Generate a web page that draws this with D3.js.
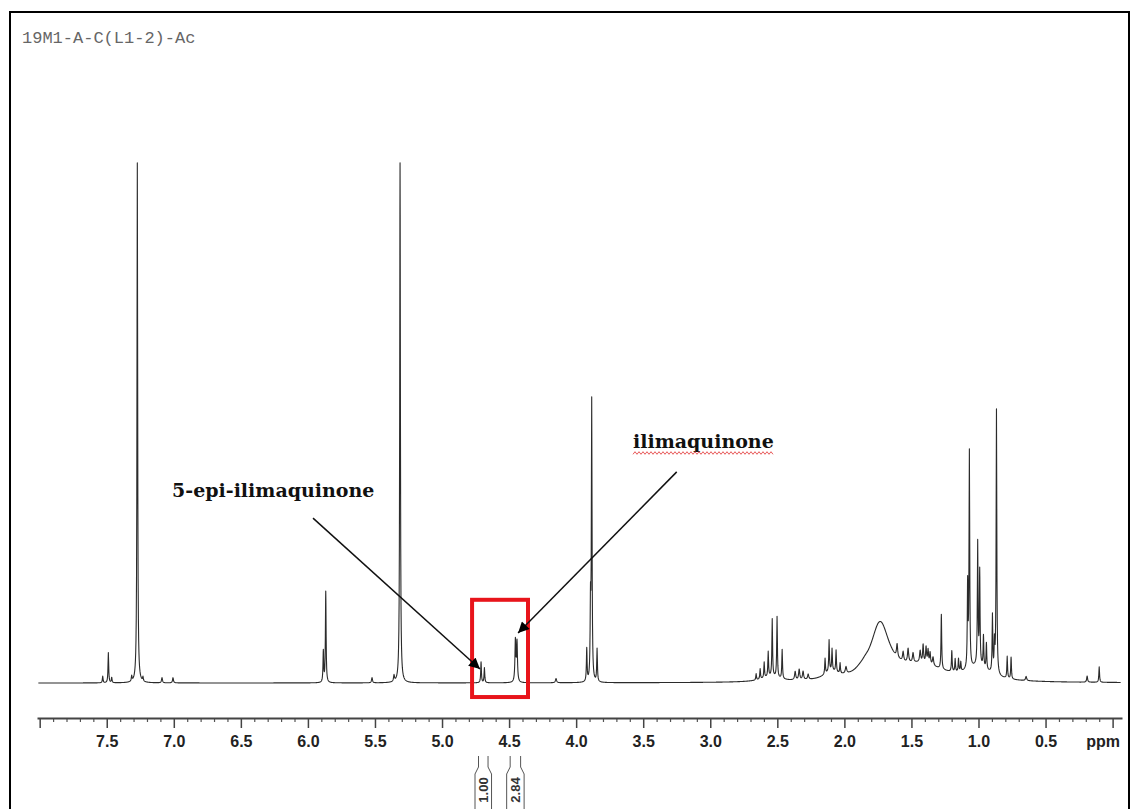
<!DOCTYPE html>
<html>
<head>
<meta charset="utf-8">
<script src="https://cdn.jsdelivr.net/npm/d3@7"></script>
<style>
  body { margin: 0; background: #fff; }
  svg { display: block; }
</style>
</head>
<body>
<div id="chart"></div>
<script>
// peak list: position (ppm), height (% of tallest), half width (ppm)
const peakPpm = [
  7.530, 7.488, 7.463, 7.314, 7.272, 7.230, 7.088, 7.006,
  5.885, 5.867, 5.522, 5.358, 5.313,
  4.709, 4.684, 4.453, 4.441, 4.150,
  3.921, 3.893, 3.884, 3.844,
  2.658, 2.628, 2.598, 2.568, 2.538, 2.502, 2.464,
  2.367, 2.337, 2.308, 2.270,
  2.144, 2.114, 2.092, 2.062, 2.032, 1.988,
  1.883, 1.846, 1.734,
  1.607, 1.562, 1.525, 1.488, 1.435, 1.413, 1.391, 1.376, 1.361, 1.339,
  1.277, 1.199, 1.174, 1.149, 1.132,
  1.081, 1.068, 1.006, 0.991, 0.963, 0.941, 0.896, 0.881, 0.866,
  0.786, 0.757, 0.645, 0.190, 0.100,
  2.550, 2.100, 1.420, 1.000
];
const peakHeight = [
  1.3, 5.8, 1.0, 1.0, 100, 0.8, 1.0, 1.0,
  6.0, 17.5, 1.0, 1.2, 100,
  4.0, 2.9, 8.0, 7.6, 0.8,
  6.3, 14, 53.5, 6.3,
  1.2, 2.0, 3.0, 4.8, 11.0, 11.7, 5.6,
  1.6, 2.0, 1.6, 1.0,
  3.0, 6.0, 4.2, 4.2, 2.0, 1.3,
  0.4, 0.5, 10.8,
  2.5, 1.8, 2.6, 1.8, 2.2, 3.4, 3.0, 2.6, 2.2, 1.6,
  10.5, 4.0, 2.5, 2.5, 1.8,
  16, 41.5, 23.5, 18, 6.0, 5.0, 11.0, 5.5, 51,
  4.2, 4.2, 0.8, 1.2, 3.0,
  1.0, 1.5, 3.0, 2.5
];
const peakWidth = [
  0.003, 0.003, 0.003, 0.003, 0.003, 0.003, 0.004, 0.004,
  0.003, 0.003, 0.004, 0.004, 0.003,
  0.003, 0.003, 0.004, 0.004, 0.005,
  0.003, 0.003, 0.003, 0.003,
  0.003, 0.003, 0.003, 0.003, 0.003, 0.003, 0.003,
  0.005, 0.005, 0.005, 0.005,
  0.003, 0.003, 0.003, 0.003, 0.003, 0.006,
  0.040, 0.030, 0.085,
  0.005, 0.005, 0.005, 0.005, 0.005, 0.004, 0.004, 0.004, 0.004, 0.005,
  0.003, 0.003, 0.003, 0.003, 0.003,
  0.003, 0.003, 0.003, 0.003, 0.003, 0.003, 0.003, 0.003, 0.003,
  0.003, 0.003, 0.005, 0.004, 0.003,
  0.080, 0.060, 0.200, 0.100
];

const majorTicks = [8.0, 7.5, 7.0, 6.5, 6.0, 5.5, 5.0, 4.5, 4.0, 3.5, 3.0, 2.5, 2.0, 1.5, 1.0, 0.5, 0.0];
const majorLabels = ['', '7.5', '7.0', '6.5', '6.0', '5.5', '5.0', '4.5', '4.0', '3.5', '3.0', '2.5', '2.0', '1.5', '1.0', '0.5', 'ppm'];

// integrations under the axis
const integralFrom = [4.728, 4.492];
const integralTo = [4.657, 4.414];
const integralValues = ['1.00', '2.84'];

// annotations
const labelTexts = ['5-epi-ilimaquinone', 'ilimaquinone'];
const labelPpm = [7.013, 3.576];
const labelInt = [35.8, 45.2];
const arrowFromPpm = [5.962, 3.250];
const arrowFromInt = [31.7, 40.6];
const arrowToPpm = [4.717, 4.433];
const arrowToInt = [2.7, 9.6];
const boxPpm = [4.776, 4.359];
const boxInt = [16.0, -2.7];

const title = '19M1-A-C(L1-2)-Ac';

const width = 1131, height = 809;

const svg = d3.select('#chart').append('svg')
  .attr('width', width)
  .attr('height', height);

svg.append('rect')
  .attr('x', 10).attr('y', 12)
  .attr('width', 1119).attr('height', 810)
  .attr('fill', 'none')
  .attr('stroke', '#000')
  .attr('stroke-width', 2);

svg.append('text')
  .attr('x', 22).attr('y', 43)
  .attr('font-family', 'Liberation Mono, Courier New, monospace')
  .attr('font-size', 17)
  .attr('fill', '#666')
  .text(title);

let x = d3.scaleLinear().domain([8.02, -0.07]).range([37, 1122]);
let y = d3.scaleLinear().domain([0, 100]).range([683, 163]);

// spectrum as a sum of lorentzian lines
const intensity = p => {
  let s = 0;
  for (let i = 0; i < peakPpm.length; i++) {
    const dx = p - peakPpm[i], w = peakWidth[i];
    s += peakHeight[i] * w * w / (dx * dx + w * w);
  }
  return s;
};
let pts = d3.range(8.01, -0.062, -0.002).concat(peakPpm);
pts.sort((a, b) => b - a);

const line = d3.line()
  .x(d => x(d))
  .y(d => y(intensity(d)));

svg.append('path')
  .datum(pts)
  .attr('d', line)
  .attr('fill', 'none')
  .attr('stroke', '#2b2b2b')
  .attr('stroke-width', 1.1)
  .attr('stroke-linejoin', 'round');

// axis
const axisG = svg.append('g').attr('transform', 'translate(0,718)');
const minorTicks = d3.range(80, -1, -1).map(i => i / 10).filter(v => Math.abs(v * 2 - Math.round(v * 2)) > 0.01);

axisG.append('g')
  .call(d3.axisBottom(x).tickValues(minorTicks).tickSize(4).tickFormat(''))
  .call(g => g.select('.domain').remove())
  .selectAll('line').attr('stroke', '#555').attr('stroke-width', 1.2);

axisG.append('g')
  .call(d3.axisBottom(x).tickValues(majorTicks).tickSize(10).tickSizeOuter(0).tickFormat((d, i) => majorLabels[i]))
  .call(g => g.select('.domain').attr('stroke', '#444').attr('stroke-width', 2))
  .call(g => g.selectAll('.tick line').attr('stroke', '#444').attr('stroke-width', 1.5))
  .call(g => g.selectAll('.tick text')
    .attr('y', 18)
    .attr('font-family', 'Liberation Sans, Arial, sans-serif')
    .attr('font-weight', 'bold')
    .attr('font-size', 16)
    .attr('fill', '#222')
    .attr('x', (d, i) => majorLabels[i] === 'ppm' ? -10 : 0));

// integral brackets
integralValues.forEach((v, i) => {
  const x0 = x(integralFrom[i]), x1 = x(integralTo[i]);
  const cx = (x0 + x1) / 2;
  const bracket = side => {
    const xa = side < 0 ? x0 : x1;
    const xb = xa + side * 3.5;
    return d3.line()([[xa, 756], [xa, 767], [xb, 774], [xb, 809]]);
  };
  [-1, 1].forEach(s => {
    svg.append('path')
      .attr('d', bracket(s))
      .attr('fill', 'none')
      .attr('stroke', '#555')
      .attr('stroke-width', 1);
  });
  svg.append('text')
    .attr('transform', 'translate(' + (cx + 4.5) + ',790) rotate(-90)')
    .attr('text-anchor', 'middle')
    .attr('font-family', 'Liberation Sans, Arial, sans-serif')
    .attr('font-weight', 'bold')
    .attr('font-size', 13)
    .attr('fill', '#333')
    .text(v);
});

// red box
svg.append('rect')
  .attr('x', x(boxPpm[0]))
  .attr('y', y(boxInt[0]))
  .attr('width', x(boxPpm[1]) - x(boxPpm[0]))
  .attr('height', y(boxInt[1]) - y(boxInt[0]))
  .attr('fill', 'none')
  .attr('stroke', '#e8141b')
  .attr('stroke-width', 4);

// arrows
svg.append('defs').append('marker')
  .attr('id', 'head')
  .attr('viewBox', '0 0 10 10')
  .attr('refX', 10).attr('refY', 5)
  .attr('markerUnits', 'userSpaceOnUse')
  .attr('markerWidth', 15).attr('markerHeight', 11)
  .attr('orient', 'auto')
  .append('path')
  .attr('d', 'M0,0 L10,5 L0,10 Z')
  .attr('fill', '#000');

labelTexts.forEach((t, i) => {
  svg.append('line')
    .attr('x1', x(arrowFromPpm[i])).attr('y1', y(arrowFromInt[i]))
    .attr('x2', x(arrowToPpm[i])).attr('y2', y(arrowToInt[i]))
    .attr('stroke', '#111')
    .attr('stroke-width', 1.5)
    .attr('marker-end', 'url(#head)');

  svg.append('text')
    .attr('x', x(labelPpm[i]))
    .attr('y', y(labelInt[i]))
    .attr('font-family', 'DejaVu Serif, serif')
    .attr('font-weight', 'bold')
    .attr('font-size', 19)
    .attr('fill', '#111')
    .text(t);
});

// spell-check squiggle under the second label
const lbl = svg.selectAll('text').filter(function () { return d3.select(this).text() === 'ilimaquinone'; });
const bb = lbl.node().getBBox();
const wave = d3.range(bb.x, bb.x + bb.width, 2).map((px, i) => [px, 453 + (i % 2 ? -1.3 : 1.3)]);
svg.append('path')
  .attr('d', d3.line()(wave))
  .attr('fill', 'none')
  .attr('stroke', '#e85a5a')
  .attr('stroke-width', 1);
</script>
</body>
</html>
